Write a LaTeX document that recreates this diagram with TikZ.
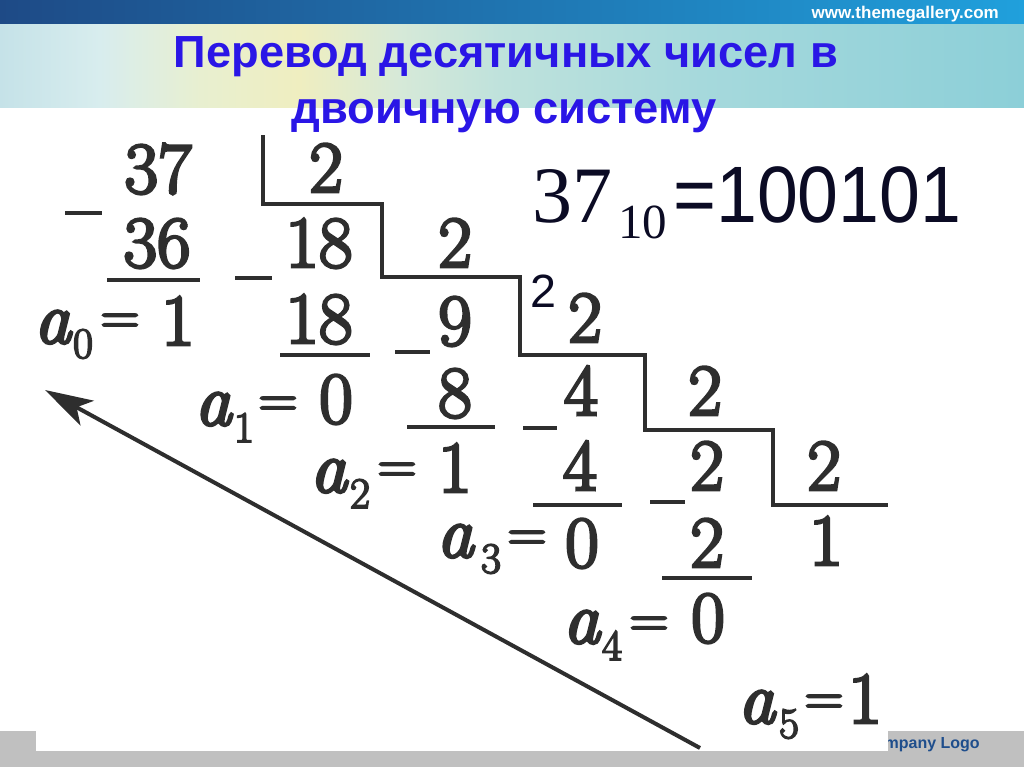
\documentclass[tikz,border=0pt]{standalone}
\usepackage{fontspec}
\usepackage{graphicx}
\usetikzlibrary{arrows.meta}
\setmainfont{Latin Modern Roman}
\newfontfamily\scanfont{Latin Modern Roman}[FakeBold=4]
\newfontfamily\arialfont{Liberation Sans}
\newfontfamily\tnrfont{Liberation Serif}
\definecolor{ink}{HTML}{2E2E2E}
\definecolor{ttl}{HTML}{2A16E6}
\definecolor{navy}{HTML}{0B0B24}
\definecolor{footgray}{HTML}{C0C0C0}
\definecolor{logoblue}{HTML}{1F4E8C}
\definecolor{bandL}{HTML}{1E4A86}
\definecolor{bandR}{HTML}{20A0DC}
\definecolor{lb0}{HTML}{C5E2E8}
\definecolor{lb1}{HTML}{D8EDEE}
\definecolor{lb2}{HTML}{E8EFD0}
\definecolor{lb3}{HTML}{EFEEC0}
\definecolor{lb4}{HTML}{D6E9D8}
\definecolor{lb5}{HTML}{BFE2DC}
\definecolor{lb6}{HTML}{A6D9DC}
\definecolor{lb7}{HTML}{8CCFD8}
\pgfdeclarehorizontalshading{lightband}{100bp}{color(0bp)=(lb0); color(25bp)=(lb0); color(29.9bp)=(lb1); color(34.8bp)=(lb2); color(39.6bp)=(lb3); color(44.5bp)=(lb4); color(49.4bp)=(lb5); color(59.2bp)=(lb6); color(75bp)=(lb7); color(100bp)=(lb7)}
\tikzset{
  digit/.style={anchor=base, inner sep=0pt, text=ink, font=\scanfont\fontsize{54.75pt}{60pt}\selectfont},
  avar/.style={anchor=base, inner sep=0pt, text=ink, font=\scanfont\itshape\fontsize{55pt}{60pt}\selectfont},
  subd/.style={anchor=base, inner sep=0pt, text=ink, font=\scanfont\fontsize{32.6pt}{36pt}\selectfont},
  eqs/.style={anchor=base, inner sep=0pt, text=ink, font=\scanfont\fontsize{40.5pt}{44pt}\selectfont},
  ttlfont/.style={anchor=base, inner sep=0pt, text=ttl, font=\arialfont\bfseries\fontsize{33.75pt}{40pt}\selectfont},
  stair/.style={draw=ink, line width=2.6pt, line join=miter},
  bar/.style={draw=ink, line width=3pt},
  minusbar/.style={draw=ink, line width=2.8pt}
}
\begin{document}
\begin{tikzpicture}[x=0.75pt,y=-0.75pt]
\useasboundingbox (0,0) rectangle (1024,767);
% header
\fill[left color=bandL, right color=bandR] (0,0) rectangle (1024,25);
\shade[shading=lightband] (0,25) rectangle (1024,107);
\node[anchor=base east, inner sep=0pt, text=white, font=\arialfont\bfseries\fontsize{12.75pt}{14pt}\selectfont] (url) at (999,19) {www.themegallery.com};
% footer
\fill[footgray] (0,731) rectangle (1024,767);
\node[anchor=base east, inner sep=0pt, text=logoblue, font=\arialfont\bfseries\fontsize{12pt}{14pt}\selectfont] (logo) at (980,748) {Company Logo};
\fill[white] (36,731) rectangle (888,751);
% title
\node[ttlfont] (t1) at (506,68) {\resizebox{498pt}{\height}{Перевод десятичных чисел в}};
\node[ttlfont] (t2) at (504,123) {\resizebox{319pt}{\height}{двоичную систему}};
% result
\node[anchor=base east, inner sep=0pt, text=navy, font=\tnrfont\fontsize{60pt}{66pt}\selectfont] (n37) at (613,222) {37};
\node[anchor=base west, inner sep=0pt, text=navy, font=\tnrfont\fontsize{36.75pt}{40pt}\selectfont] (n10) at (618,238) {10};
\node[anchor=base west, inner sep=0pt, text=navy, font=\arialfont\fontsize{60pt}{66pt}\selectfont] (nres) at (673,222) {\resizebox{216pt}{\height}{=100101}};
\node[anchor=base west, inner sep=0pt, text=navy, font=\arialfont\fontsize{35pt}{40pt}\selectfont] (n2) at (530,307) {2};
% staircase
\draw[stair] (263,135) |- (382,204) |- (520,277) |- (645,355) |- (773,430) |- (888,505);
% digits
\node[digit] (d37) at (158,193) {37};
\node[digit] (q1) at (326,192) {2};
\node[digit] (d36) at (157,267) {36};
\node[digit] (d18a) at (319,267) {18};
\node[digit] (q2) at (455,267) {2};
\node[digit] (r0) at (178,345) {1};
\node[digit] (d18b) at (319,343) {18};
\node[digit] (d9) at (455,345) {9};
\node[digit] (q3) at (585,342) {2};
\node[digit] (r1) at (336,423) {0};
\node[digit] (d8) at (455,417) {8};
\node[digit] (d4a) at (581,415) {4};
\node[digit] (q4) at (705,415) {2};
\node[digit] (r2) at (455,492) {1};
\node[digit] (d4b) at (580,490) {4};
\node[digit] (d2a) at (707,490) {2};
\node[digit] (q5) at (824,490) {2};
\node[digit] (r3) at (582,567) {0};
\node[digit] (d2b) at (707,567) {2};
\node[digit] (q6) at (826,565) {1};
\node[digit] (r4) at (708,642) {0};
\node[digit] (r5) at (865,723) {1};
% a variables
\node[avar] (a0) at (52.5,343) {a};
\node[avar] (a1) at (213,425) {a};
\node[avar] (a2) at (328.5,492) {a};
\node[avar] (a3) at (455,557) {a};
\node[avar] (a4) at (581.5,643) {a};
\node[avar] (a5) at (756.5,723) {a};
\node[subd] (s0) at (83,358) {0};
\node[subd] (s1) at (244,442) {1};
\node[subd] (s2) at (360,508) {2};
\node[subd] (s3) at (491,573) {3};
\node[subd] (s4) at (612,660) {4};
\node[subd] (s5) at (789,738) {5};
\node[eqs] (e0) at (120,333.5) {=};
\node[eqs] (e1) at (278,416.5) {=};
\node[eqs] (e2) at (397,482.5) {=};
\node[eqs] (e3) at (527,550.5) {=};
\node[eqs] (e4) at (649,636.5) {=};
\node[eqs] (e5) at (824,714.5) {=};
% minus signs
\draw[minusbar] (65,213) -- (102,213);
\draw[minusbar] (235,278) -- (272,278);
\draw[minusbar] (395,352) -- (430,352);
\draw[minusbar] (523,428) -- (557,428);
\draw[minusbar] (650,502) -- (685,502);
% underlines
\draw[bar] (107,280) -- (200,280);
\draw[bar] (280,355) -- (370,355);
\draw[bar] (407,427) -- (495,427);
\draw[bar] (533,505) -- (622,505);
\draw[bar] (662,578) -- (752,578);
% arrow
\coordinate (arrS) at (700,748);
\coordinate (arrT) at (45,390);
\draw[ink, line width=3pt, -{Stealth[length=36pt, width=21pt, inset=9pt]}] (arrS) -- (arrT);
\end{tikzpicture}
\end{document}
